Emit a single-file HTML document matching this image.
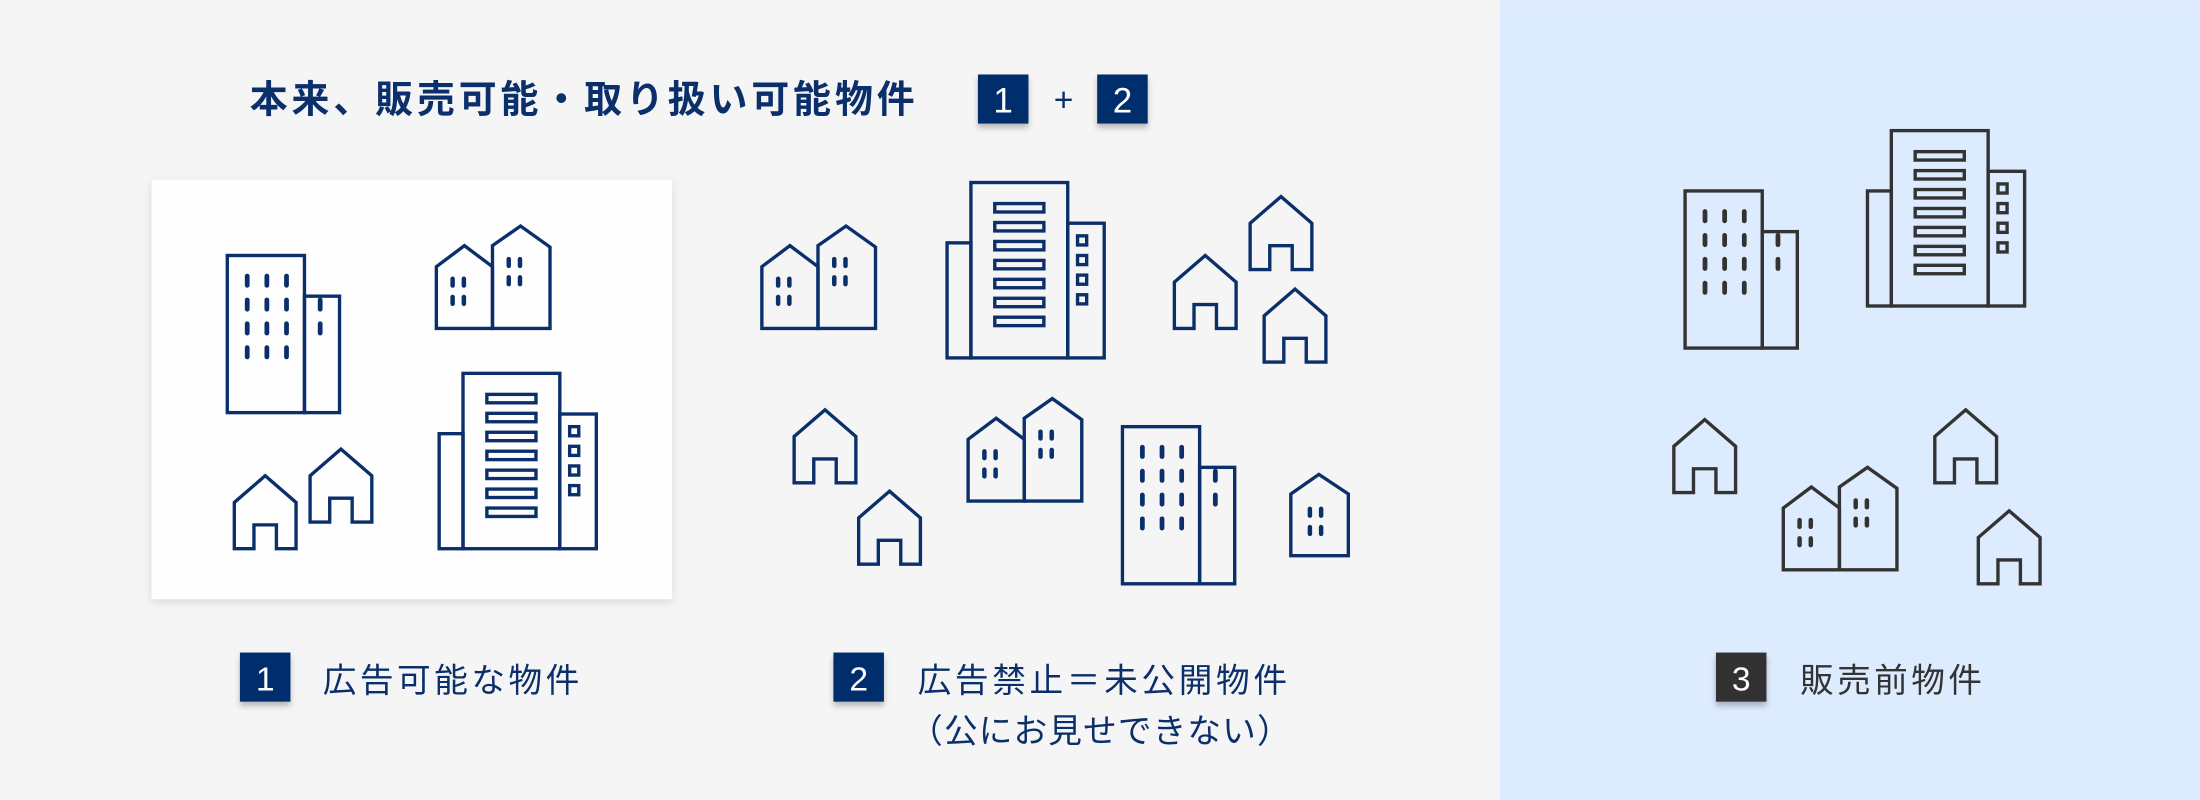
<!DOCTYPE html>
<html><head><meta charset="utf-8"><style>
html,body{margin:0;padding:0;width:2200px;height:800px;overflow:hidden;background:#f5f5f5}
svg{display:block}
text{font-family:"Liberation Sans","Noto Sans CJK JP",sans-serif}
</style></head><body>
<svg width="2200" height="800" viewBox="0 0 1568 570" xmlns="http://www.w3.org/2000/svg">
<defs>
<filter id="sh" x="-10%" y="-10%" width="130%" height="130%"><feDropShadow dx="0" dy="2" stdDeviation="3" flood-color="#000" flood-opacity="0.12"/></filter>
<filter id="sh2" x="-30%" y="-30%" width="160%" height="170%"><feDropShadow dx="0" dy="3" stdDeviation="2" flood-color="#000" flood-opacity="0.25"/></filter>
<g id="office">
 <g fill="none" stroke="currentColor" stroke-width="2.4">
 <rect x="0" y="0" width="55" height="112"/>
 <rect x="55" y="29" width="25" height="83"/>
 </g>
 <g fill="currentColor">
  <rect x="12.5" y="13" width="3.4" height="10" rx="1.7"/><rect x="26.5" y="13" width="3.4" height="10" rx="1.7"/><rect x="40.5" y="13" width="3.4" height="10" rx="1.7"/>
  <rect x="12.5" y="30" width="3.4" height="10" rx="1.7"/><rect x="26.5" y="30" width="3.4" height="10" rx="1.7"/><rect x="40.5" y="30" width="3.4" height="10" rx="1.7"/>
  <rect x="12.5" y="47" width="3.4" height="10" rx="1.7"/><rect x="26.5" y="47" width="3.4" height="10" rx="1.7"/><rect x="40.5" y="47" width="3.4" height="10" rx="1.7"/>
  <rect x="12.5" y="64" width="3.4" height="10" rx="1.7"/><rect x="26.5" y="64" width="3.4" height="10" rx="1.7"/><rect x="40.5" y="64" width="3.4" height="10" rx="1.7"/>
  <rect x="64.5" y="30" width="3.4" height="10" rx="1.7"/><rect x="64.5" y="47" width="3.4" height="10" rx="1.7"/>
 </g>
</g>
<g id="tower" fill="none" stroke="currentColor" stroke-width="2.4">
 <rect x="0" y="43" width="17" height="82"/>
 <rect x="17" y="0" width="69" height="125"/>
 <rect x="86" y="29" width="26" height="96"/>
 <rect x="34" y="15" width="35" height="6"/><rect x="34" y="28.5" width="35" height="6"/><rect x="34" y="42" width="35" height="6"/><rect x="34" y="55.5" width="35" height="6"/><rect x="34" y="69" width="35" height="6"/><rect x="34" y="82.5" width="35" height="6"/><rect x="34" y="96" width="35" height="6"/>
 <rect x="93" y="38" width="6.5" height="6.5"/><rect x="93" y="52" width="6.5" height="6.5"/><rect x="93" y="66" width="6.5" height="6.5"/><rect x="93" y="80" width="6.5" height="6.5"/>
</g>
<g id="twin">
 <g fill="none" stroke="currentColor" stroke-width="2.4">
 <polygon points="0,73 0,29 20,14 40,29 40,73"/>
 <polygon points="40,73 40,14 60,0 81,15 81,73"/>
 </g>
 <g fill="currentColor">
  <rect x="10" y="36" width="3.2" height="8" rx="1.6"/><rect x="18" y="36" width="3.2" height="8" rx="1.6"/>
  <rect x="10" y="49" width="3.2" height="8" rx="1.6"/><rect x="18" y="49" width="3.2" height="8" rx="1.6"/>
  <rect x="50" y="22" width="3.2" height="8" rx="1.6"/><rect x="58" y="22" width="3.2" height="8" rx="1.6"/>
  <rect x="50" y="35" width="3.2" height="8" rx="1.6"/><rect x="58" y="35" width="3.2" height="8" rx="1.6"/>
 </g>
</g>
<polygon id="house" fill="none" stroke="currentColor" stroke-width="2.4" points="0,52 0,19 22,0 44,19 44,52 30,52 30,35 14,35 14,52"/>
<g id="hwin">
 <polygon fill="none" stroke="currentColor" stroke-width="2.4" points="0,58 0,14 20,0 41,14 41,58"/>
 <g fill="currentColor"><rect x="12" y="23" width="3.2" height="8" rx="1.6"/><rect x="20" y="23" width="3.2" height="8" rx="1.6"/><rect x="12" y="36" width="3.2" height="8" rx="1.6"/><rect x="20" y="36" width="3.2" height="8" rx="1.6"/></g>
</g>
</defs>
<rect x="0" y="0" width="1069" height="570" fill="#f5f5f5"/>
<rect x="1069" y="0" width="499" height="570" fill="#ddebfe"/>

<text x="178" y="80" font-size="27" font-weight="bold" fill="#0b2f6b" letter-spacing="2.8">本来、販売可能・取り扱い可能物件</text>
<rect x="697" y="53" width="36" height="35" fill="#002f6c" filter="url(#sh2)"/>
<text x="715" y="80" font-size="25" fill="#fff" text-anchor="middle">1</text>
<text x="758" y="79" font-size="24" fill="#0b2f6b" text-anchor="middle">+</text>
<rect x="782" y="53" width="36" height="35" fill="#002f6c" filter="url(#sh2)"/>
<text x="800" y="80" font-size="25" fill="#fff" text-anchor="middle">2</text>

<rect x="108" y="128" width="371" height="299" fill="#fefefe" filter="url(#sh)"/>

<g color="#0a2f6b">
 <use href="#office" x="162" y="182"/>
 <use href="#twin" x="311" y="161"/>
 <use href="#house" x="167" y="339"/>
 <use href="#house" x="221" y="320"/>
 <use href="#tower" x="313" y="266"/>

 <use href="#twin" x="543" y="161"/>
 <use href="#tower" x="675" y="130"/>
 <use href="#house" x="837" y="182"/>
 <use href="#house" x="891" y="140"/>
 <use href="#house" x="901" y="206"/>
 <use href="#house" x="566" y="292"/>
 <use href="#house" x="612" y="350"/>
 <use href="#twin" x="690" y="284"/>
 <use href="#office" x="800" y="304"/>
 <use href="#hwin" x="920" y="338"/>
</g>
<g color="#333">
 <use href="#office" x="1201" y="136"/>
 <use href="#tower" x="1331" y="93"/>
 <use href="#house" x="1193" y="299"/>
 <use href="#house" x="1379" y="292"/>
 <use href="#house" x="1410" y="364"/>
 <use href="#twin" x="1271" y="333"/>
</g>

<rect x="171" y="465" width="36" height="35" fill="#002f6c" filter="url(#sh2)"/>
<text x="189" y="492" font-size="24" fill="#fff" text-anchor="middle">1</text>
<text x="230" y="493" font-size="24" fill="#0b2f6b" letter-spacing="2.5">広告可能な物件</text>

<rect x="594" y="465" width="36" height="35" fill="#002f6c" filter="url(#sh2)"/>
<text x="612" y="492" font-size="24" fill="#fff" text-anchor="middle">2</text>
<text x="654" y="493" font-size="24" fill="#0b2f6b" letter-spacing="2.6">広告禁止＝未公開物件</text>
<text x="648" y="529" font-size="24" fill="#0b2f6b" letter-spacing="0.8">（公にお見せできない）</text>

<rect x="1223" y="465" width="36" height="35" fill="#333" filter="url(#sh2)"/>
<text x="1241" y="492" font-size="24" fill="#fff" text-anchor="middle">3</text>
<text x="1283" y="493" font-size="24" fill="#333" letter-spacing="2.4">販売前物件</text>
</svg>
</body></html>
